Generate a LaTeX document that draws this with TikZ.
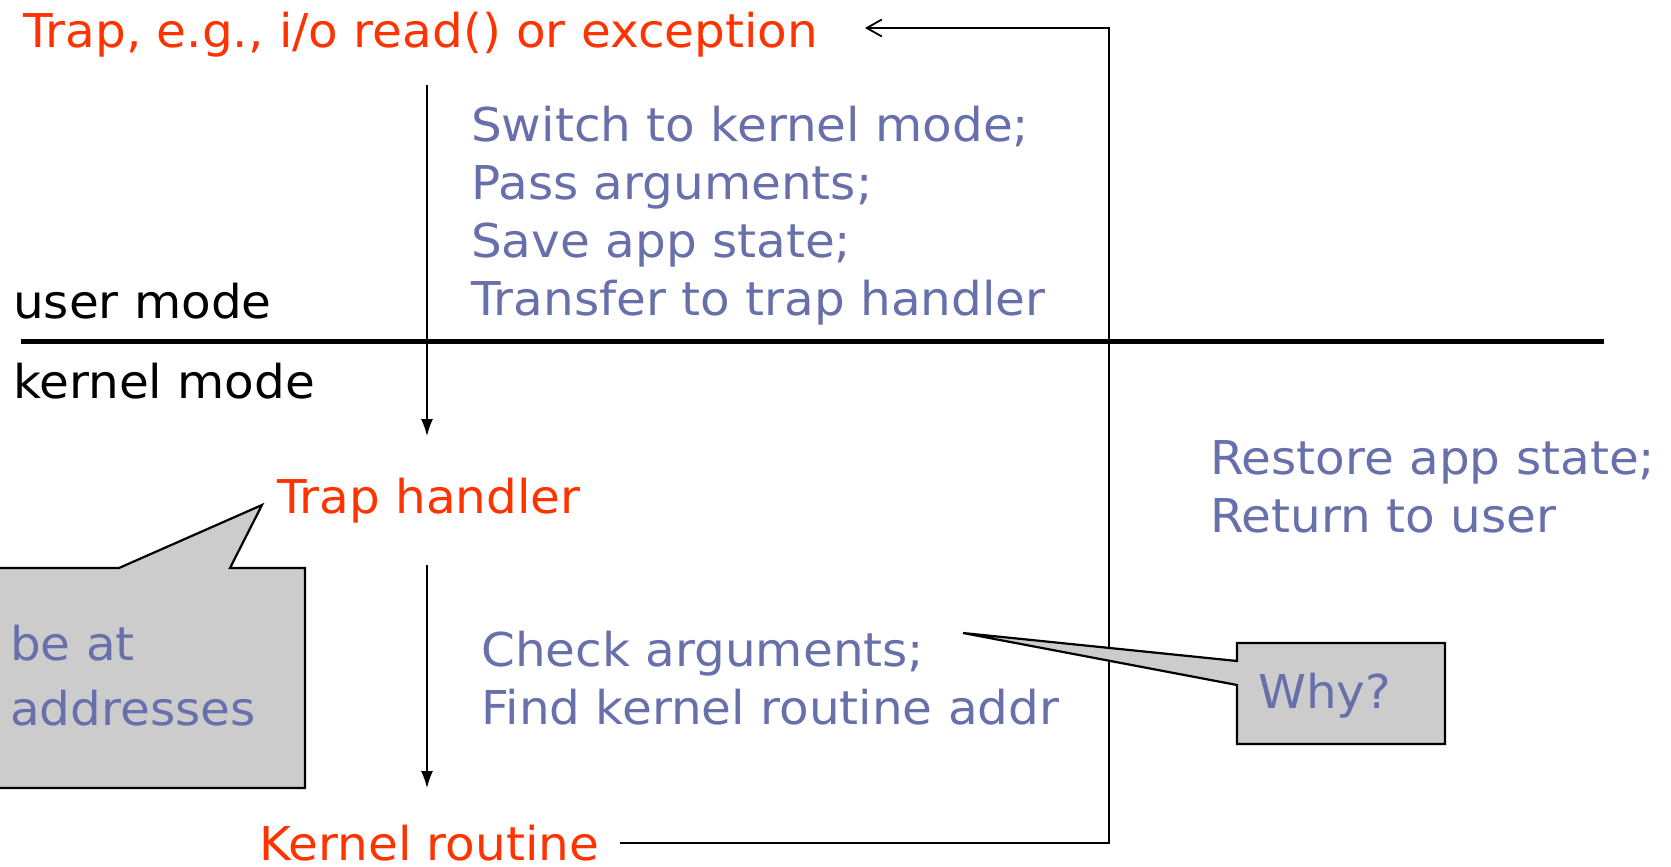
\documentclass[tikz,border=0pt]{standalone}
\usepackage{fontspec}
\setmainfont[FakeStretch=1.04]{DejaVu Sans}
\usetikzlibrary{arrows.meta}
\definecolor{trapred}{HTML}{FF3300}
\definecolor{noteblue}{HTML}{6870AC}
\definecolor{calloutgray}{HTML}{CCCCCC}
\begin{document}
\begin{tikzpicture}[x=1pt,y=-1pt,
  lbl/.style={inner sep=0pt, anchor=base west, font=\fontsize{46.6}{58}\selectfont},
  redlbl/.style={lbl, text=trapred},
  bluelbl/.style={lbl, text=noteblue, align=left},
  blacklbl/.style={lbl, text=black},
  flow/.style={line width=1.6pt, -{Latex[length=17pt,width=12pt]}},
  retline/.style={line width=1.8pt, -{Straight Barb[length=15pt,width=17pt,line width=1.8pt]}},
  modeline/.style={line width=5pt},
  callout/.style={fill=calloutgray, draw=black, line width=2.2pt, line join=miter}
]
\useasboundingbox (0,0) rectangle (1671,867);

% labels (multi-line nodes are placed at the baseline of their last line)
\node[redlbl] (trap) at (23,48) {Trap, e.g., i/o read() or exception};
\node[blacklbl] (user) at (13,318) {user mode};
\node[blacklbl] (kern) at (13,398) {kernel mode};
\node[bluelbl] (sw) at (471,315) {Switch to kernel mode;\\Pass arguments;\\Save app state;\\Transfer to trap handler};
\node[redlbl] (th) at (277,513) {Trap handler};
\node[bluelbl] (rs) at (1210,532) {Restore app state;\\Return to user};
\node[bluelbl] (ck) at (481,724) {Check arguments;\\Find kernel routine addr};
\node[redlbl] (kr) at (259,860) {Kernel routine};

% mode separator
\coordinate (mL) at (21,341);
\coordinate (mR) at (1604,341);
\draw[modeline] (mL) -- (mR);

% downward flow arrows
\coordinate (f1s) at (427,85);
\coordinate (f1e) at (427,436);
\coordinate (f2s) at (427,565);
\coordinate (f2e) at (427,788);
\draw[flow] (f1s) -- (f1e);
\draw[flow] (f2s) -- (f2e);

% return path
\coordinate (rA) at (620,843);
\coordinate (rB) at (1109,843);
\coordinate (rC) at (1109,28);
\coordinate (rD) at (865,28);
\draw[retline] (rA) -- (rB) -- (rC) -- (rD);

% left callout
\draw[callout] (-5,568) -- (119,568) -- (262,505) -- (230,568) -- (305,568)
  -- (305,788) -- (-5,788) -- cycle;
\node[bluelbl] (be) at (10,725) {be at\\[7pt]addresses};

% why callout
\draw[callout] (1237,643) -- (1445,643) -- (1445,744) -- (1237,744)
  -- (1237,685) -- (963,633) -- (1237,661) -- cycle;
\node[bluelbl] (why) at (1258,708) {Why?};
\end{tikzpicture}
\end{document}
